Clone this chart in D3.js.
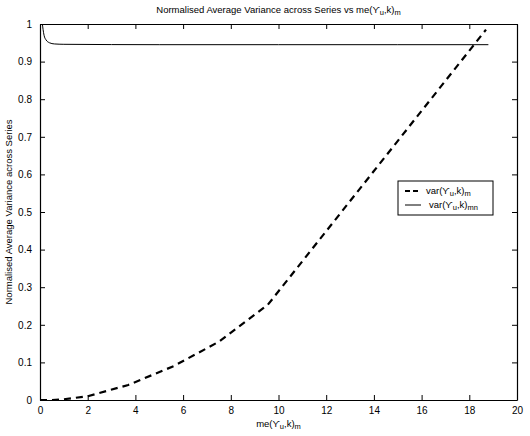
<!DOCTYPE html>
<html>
<head>
<meta charset="utf-8">
<script src="https://cdn.jsdelivr.net/npm/d3@7"></script>
<style>
  body { margin: 0; background: #fff; }
  text { font-family: "Liberation Sans", Arial, sans-serif; fill: #000; }
</style>
</head>
<body>
<div id="chart"></div>
<script>
// Datos
const varM_x = [0, 0.5, 1, 2, 3.7, 5.6, 7.5, 9.55, 12, 14, 16, 18.7];
const varM_y = [0, 0, 0.002, 0.01, 0.04, 0.09, 0.155, 0.253, 0.449, 0.609, 0.769, 0.985];

const varMN_x = [0.1, 0.13, 0.17, 0.25, 0.4, 0.6, 1, 5, 10, 15, 18.8];
const varMN_y = [1.0, 0.985, 0.97, 0.958, 0.95, 0.947, 0.946, 0.945, 0.945, 0.945, 0.945];

const xTicks = d3.range(0, 21, 2);
const yTicks = d3.range(0, 11).map(d => d / 10);

const W = 530, H = 436;
const margin = { top: 24, right: 13, bottom: 36, left: 40 };
const width = W - margin.left - margin.right;
const height = H - margin.top - margin.bottom;

const svgRoot = d3.select("#chart").append("svg")
    .attr("width", W).attr("height", H);

// Título
const title = svgRoot.append("text")
    .attr("x", margin.left + width / 2)
    .attr("y", 13)
    .attr("text-anchor", "middle")
    .attr("font-size", 9.5);
title.append("tspan").text("Normalised Average Variance across Series vs me(ϒ");
title.append("tspan").attr("baseline-shift", "-30%").attr("font-size", 7.5).text("u");
title.append("tspan").text(",k)");
title.append("tspan").attr("baseline-shift", "-30%").attr("font-size", 7.5).text("m");

const svg = svgRoot.append("g")
    .attr("transform", `translate(${margin.left},${margin.top})`);

const x = d3.scaleLinear().domain([0, 20]).range([0, width]);
const y = d3.scaleLinear().domain([0, 1]).range([height, 0]);

const fmt = d => d3.format("~g")(d);

// Ejes con marcas hacia dentro
const axB = svg.append("g").attr("transform", `translate(0,${height})`)
    .call(d3.axisBottom(x).tickValues(xTicks).tickFormat(fmt).tickSizeInner(-5).tickSizeOuter(0).tickPadding(7));
const axT = svg.append("g")
    .call(d3.axisTop(x).tickValues(xTicks).tickFormat("").tickSizeInner(-5).tickSizeOuter(0));
const axL = svg.append("g")
    .call(d3.axisLeft(y).tickValues(yTicks).tickFormat(fmt).tickSizeInner(-5).tickSizeOuter(0).tickPadding(8));
const axR = svg.append("g").attr("transform", `translate(${width},0)`)
    .call(d3.axisRight(y).tickValues(yTicks).tickFormat("").tickSizeInner(-5).tickSizeOuter(0));

[axB, axT, axL, axR].forEach(a => {
    a.select(".domain").attr("stroke", "#000").attr("stroke-width", 1.2);
    a.selectAll(".tick line").attr("stroke", "#000");
    a.selectAll("text").attr("font-size", 10).attr("font-family", "Liberation Sans, Arial, sans-serif").attr("fill", "#000");
});

// Líneas
const line = d3.line().x(d => x(d[0])).y(d => y(d[1]));

svg.append("path")
    .datum(varM_x.map((v, i) => [v, varM_y[i]]))
    .attr("fill", "none").attr("stroke", "#000")
    .attr("stroke-width", 2.2).attr("stroke-dasharray", "7,5")
    .attr("d", line);

svg.append("path")
    .datum(varMN_x.map((v, i) => [v, varMN_y[i]]))
    .attr("fill", "none").attr("stroke", "#000")
    .attr("stroke-width", 1)
    .attr("d", line.curve(d3.curveMonotoneX));

// Etiqueta eje X
const xl = svgRoot.append("text")
    .attr("x", margin.left + width / 2)
    .attr("y", 427)
    .attr("text-anchor", "middle")
    .attr("font-size", 9.5);
xl.append("tspan").text("me(ϒ");
xl.append("tspan").attr("baseline-shift", "-30%").attr("font-size", 7.5).text("u");
xl.append("tspan").text(",k)");
xl.append("tspan").attr("baseline-shift", "-30%").attr("font-size", 7.5).text("m");

// Etiqueta eje Y
svgRoot.append("text")
    .attr("transform", `translate(12,${margin.top + height / 2}) rotate(-90)`)
    .attr("text-anchor", "middle")
    .attr("font-size", 9.5)
    .text("Normalised Average Variance across Series");

// Leyenda
const lg = svgRoot.append("g").attr("transform", "translate(398,181)");
lg.append("rect").attr("width", 95).attr("height", 34)
    .attr("fill", "#fff").attr("stroke", "#000").attr("stroke-width", 1);
lg.append("line").attr("x1", 7).attr("x2", 23).attr("y1", 10).attr("y2", 10)
    .attr("stroke", "#000").attr("stroke-width", 2.2).attr("stroke-dasharray", "5,3");
lg.append("line").attr("x1", 7).attr("x2", 23).attr("y1", 24).attr("y2", 24)
    .attr("stroke", "#000").attr("stroke-width", 1);
const legendLabels = [["m", 28, 13], ["mn", 31, 27]];
legendLabels.forEach(([sub, lx, ly]) => {
    const t = lg.append("text").attr("x", lx).attr("y", ly).attr("font-size", 9.5);
    t.append("tspan").text("var(ϒ");
    t.append("tspan").attr("baseline-shift", "-30%").attr("font-size", 7.5).text("u");
    t.append("tspan").text(",k)");
    t.append("tspan").attr("baseline-shift", "-30%").attr("font-size", 7.5).text(sub);
});
</script>
</body>
</html>
